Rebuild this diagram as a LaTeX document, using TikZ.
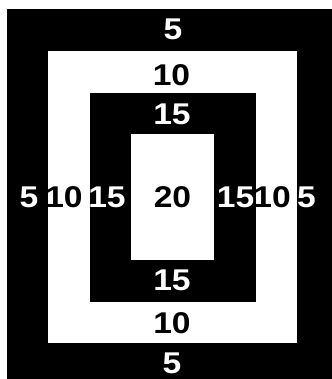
\documentclass[tikz,border=0pt]{standalone}
\usepackage{graphicx}
\usepackage{fontspec}
\setmainfont{Liberation Sans}
\newcommand\wdig[1]{\scalebox{1.12}[1]{#1}}
\tikzset{
  lbl/.style={inner sep=0pt, font=\bfseries\fontsize{30}{30}\selectfont},
  onblack/.style={lbl, text=white},
  onwhite/.style={lbl, text=black}
}
\begin{document}
\begin{tikzpicture}[x=1pt,y=-1pt]
\useasboundingbox (0,0) rectangle (331,379);
\fill[white] (0,0) rectangle (331,379);
\fill[black] (7,9) rectangle (338,385);
\fill[white] (48,51) rectangle (297,343);
\fill[black] (89.5,93) rectangle (256,301.5);
\fill[white] (131,134.5) rectangle (214,259.5);
% top
\node[onblack] (t5) at (173,29) {\wdig{5}};
\node[onwhite] (t10) at (171.5,75) {\wdig{10}};
\node[onblack] (t15) at (172,114) {\wdig{15}};
% middle row
\node[onblack] (l5) at (29,197) {\wdig{5}};
\node[onwhite] (l10) at (64,197) {\wdig{10}};
\node[onblack] (l15) at (107,197) {\wdig{15}};
\node[onwhite] (c20) at (172.5,197) {\wdig{20}};
\node[onblack] (r15) at (235.5,197) {\wdig{15}};
\node[onwhite] (r10) at (272,197) {\wdig{10}};
\node[onblack] (r5) at (306.5,197) {\wdig{5}};
% bottom
\node[onblack] (b15) at (172,280) {\wdig{15}};
\node[onwhite] (b10) at (172,323) {\wdig{10}};
\node[onblack] (b5) at (172,363) {\wdig{5}};
\end{tikzpicture}
\end{document}
